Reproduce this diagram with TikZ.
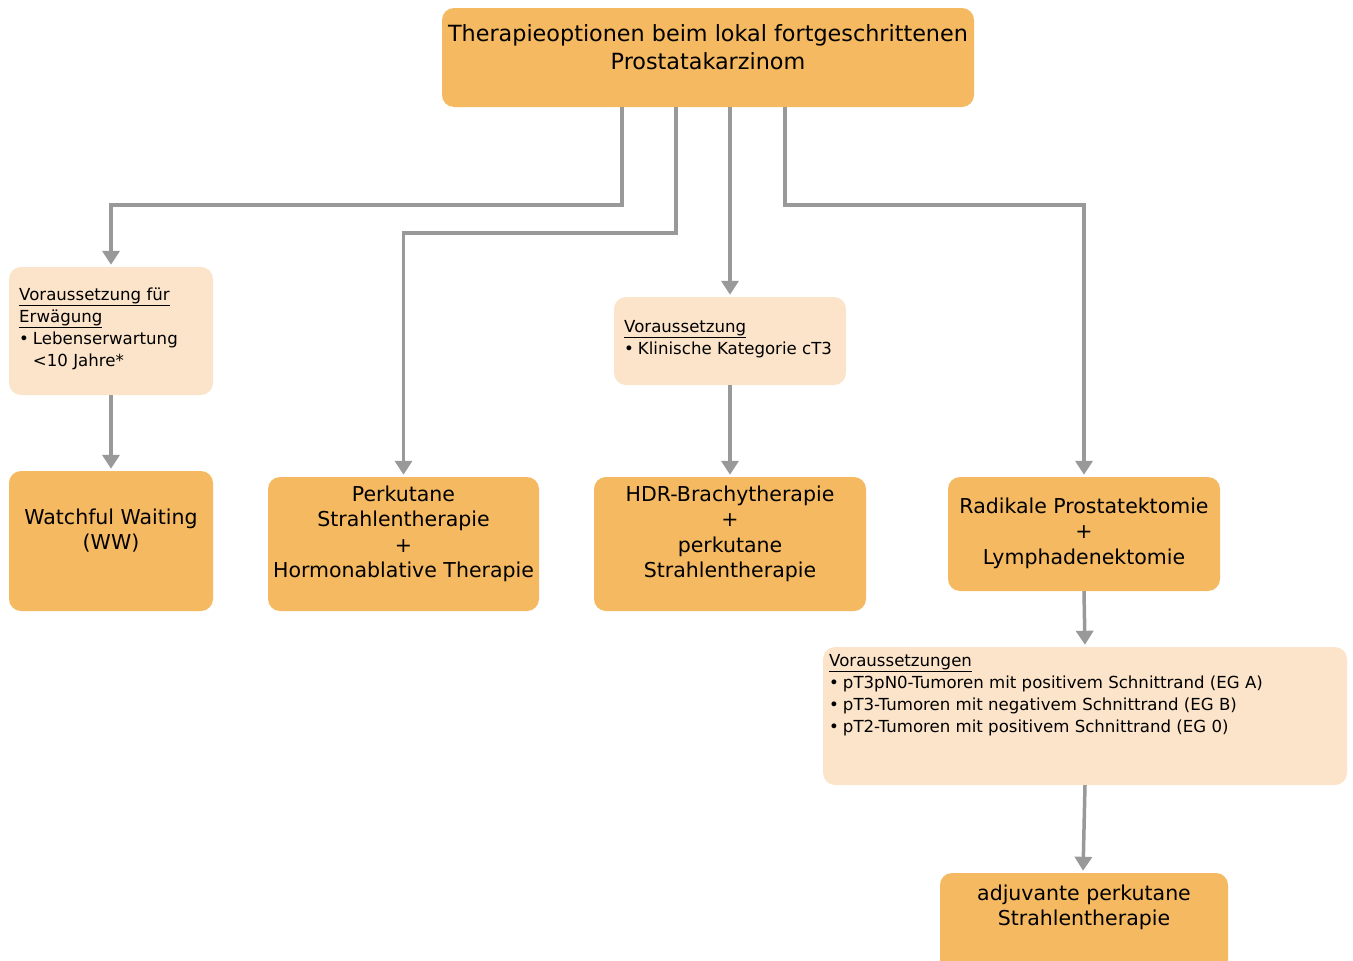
\documentclass[tikz,border=0pt]{standalone}
\usepackage{fontspec}
\setmainfont{DejaVu Sans}
\usepackage{xcolor}
\usepackage{tikz}
\usetikzlibrary{arrows.meta,positioning}

\definecolor{boxorange}{HTML}{F5B961}
\definecolor{boxlight}{HTML}{FBE4CA}
\definecolor{arrowgray}{HTML}{999999}

\begin{document}
\begin{tikzpicture}[x=1pt,y=-1pt,
  mainbox/.style={fill=boxorange,rounded corners=12pt,inner sep=0pt},
  condbox/.style={fill=boxlight,rounded corners=12pt,inner sep=0pt},
  bigtext/.style={align=center,inner sep=0pt,font=\fontsize{20.5}{25.5}\selectfont},
  smalltext/.style={align=left,inner sep=0pt,anchor=west,font=\fontsize{16.6}{22}\selectfont},
  arr/.style={draw=arrowgray,line width=3.5pt,-{Triangle[width=17pt,length=14pt]},shorten >=2pt}]
\useasboundingbox (0,0) rectangle (1353,961);
\newcommand{\itm}{\textbullet\hspace{4pt}}

% Top box
\node[mainbox,minimum width=532pt,minimum height=99pt] (top) at (708,57.5) {};
\node[bigtext,font=\fontsize{22.3}{28}\selectfont] (toptext) at (708,47) {Therapieoptionen beim lokal fortgeschrittenen\\Prostatakarzinom};

% Conditions
\node[condbox,minimum width=204pt,minimum height=128pt] (cond1) at (111,331) {};
\node[smalltext] (cond1text) at (19,329) {\underline{Voraussetzung für}\\\underline{Erwägung}\\\itm Lebenserwartung\\\phantom{\itm}<10 Jahre*};

\node[condbox,minimum width=232pt,minimum height=88pt] (cond2) at (730,341) {};
\node[smalltext] (cond2text) at (624,339) {\underline{Voraussetzung}\\\itm Klinische Kategorie cT3};

\node[condbox,minimum width=524pt,minimum height=138pt] (cond3) at (1085,716) {};
\node[smalltext] (cond3text) at (829,695.5) {\underline{Voraussetzungen}\\\itm pT3pN0-Tumoren mit positivem Schnittrand (EG A)\\\itm pT3-Tumoren mit negativem Schnittrand (EG B)\\\itm pT2-Tumoren mit positivem Schnittrand (EG 0)};

% Therapies
\node[mainbox,minimum width=204pt,minimum height=140pt] (ww) at (111,541) {};
\node[bigtext] (wwtext) at (111,530.5) {Watchful Waiting\\(WW)};

\node[mainbox,minimum width=271pt,minimum height=134pt] (perk) at (403.5,544) {};
\node[bigtext] (perktext) at (403.5,534) {Perkutane\\Strahlentherapie\\+\\Hormonablative Therapie};

\node[mainbox,minimum width=272pt,minimum height=134pt] (hdr) at (730,544) {};
\node[bigtext] (hdrtext) at (730,534) {HDR-Brachytherapie\\+\\perkutane\\Strahlentherapie};

\node[mainbox,minimum width=272pt,minimum height=114pt] (rad) at (1084,534) {};
\node[bigtext] (radtext) at (1084,533) {Radikale Prostatektomie\\+\\Lymphadenektomie};

\node[mainbox,minimum width=288pt,minimum height=102pt] (adj) at (1084,924) {};
\node[bigtext] (adjtext) at (1084,907.5) {adjuvante perkutane\\Strahlentherapie};

% Arrows
\coordinate (s1) at ([xshift=-86pt]top.south);
\coordinate (s2) at ([xshift=-32pt]top.south);
\coordinate (s3) at ([xshift=22pt]top.south);
\coordinate (s4) at ([xshift=77pt]top.south);
\draw[arr] (s1) -- ++(0,98) -| (cond1.north);
\draw[arr] (s2) -- ++(0,126) -| (perk.north);
\draw[arr] (s3) -- (cond2.north);
\draw[arr] (s4) -- ++(0,98) -| (rad.north);
\draw[arr] (cond1.south) -- (ww.north);
\draw[arr] (cond2.south) -- (hdr.north);
\draw[arr] (rad.south) -- (cond3.north);
\draw[arr] (cond3.south) -- ([xshift=-1pt]adj.north);
\end{tikzpicture}
\end{document}
